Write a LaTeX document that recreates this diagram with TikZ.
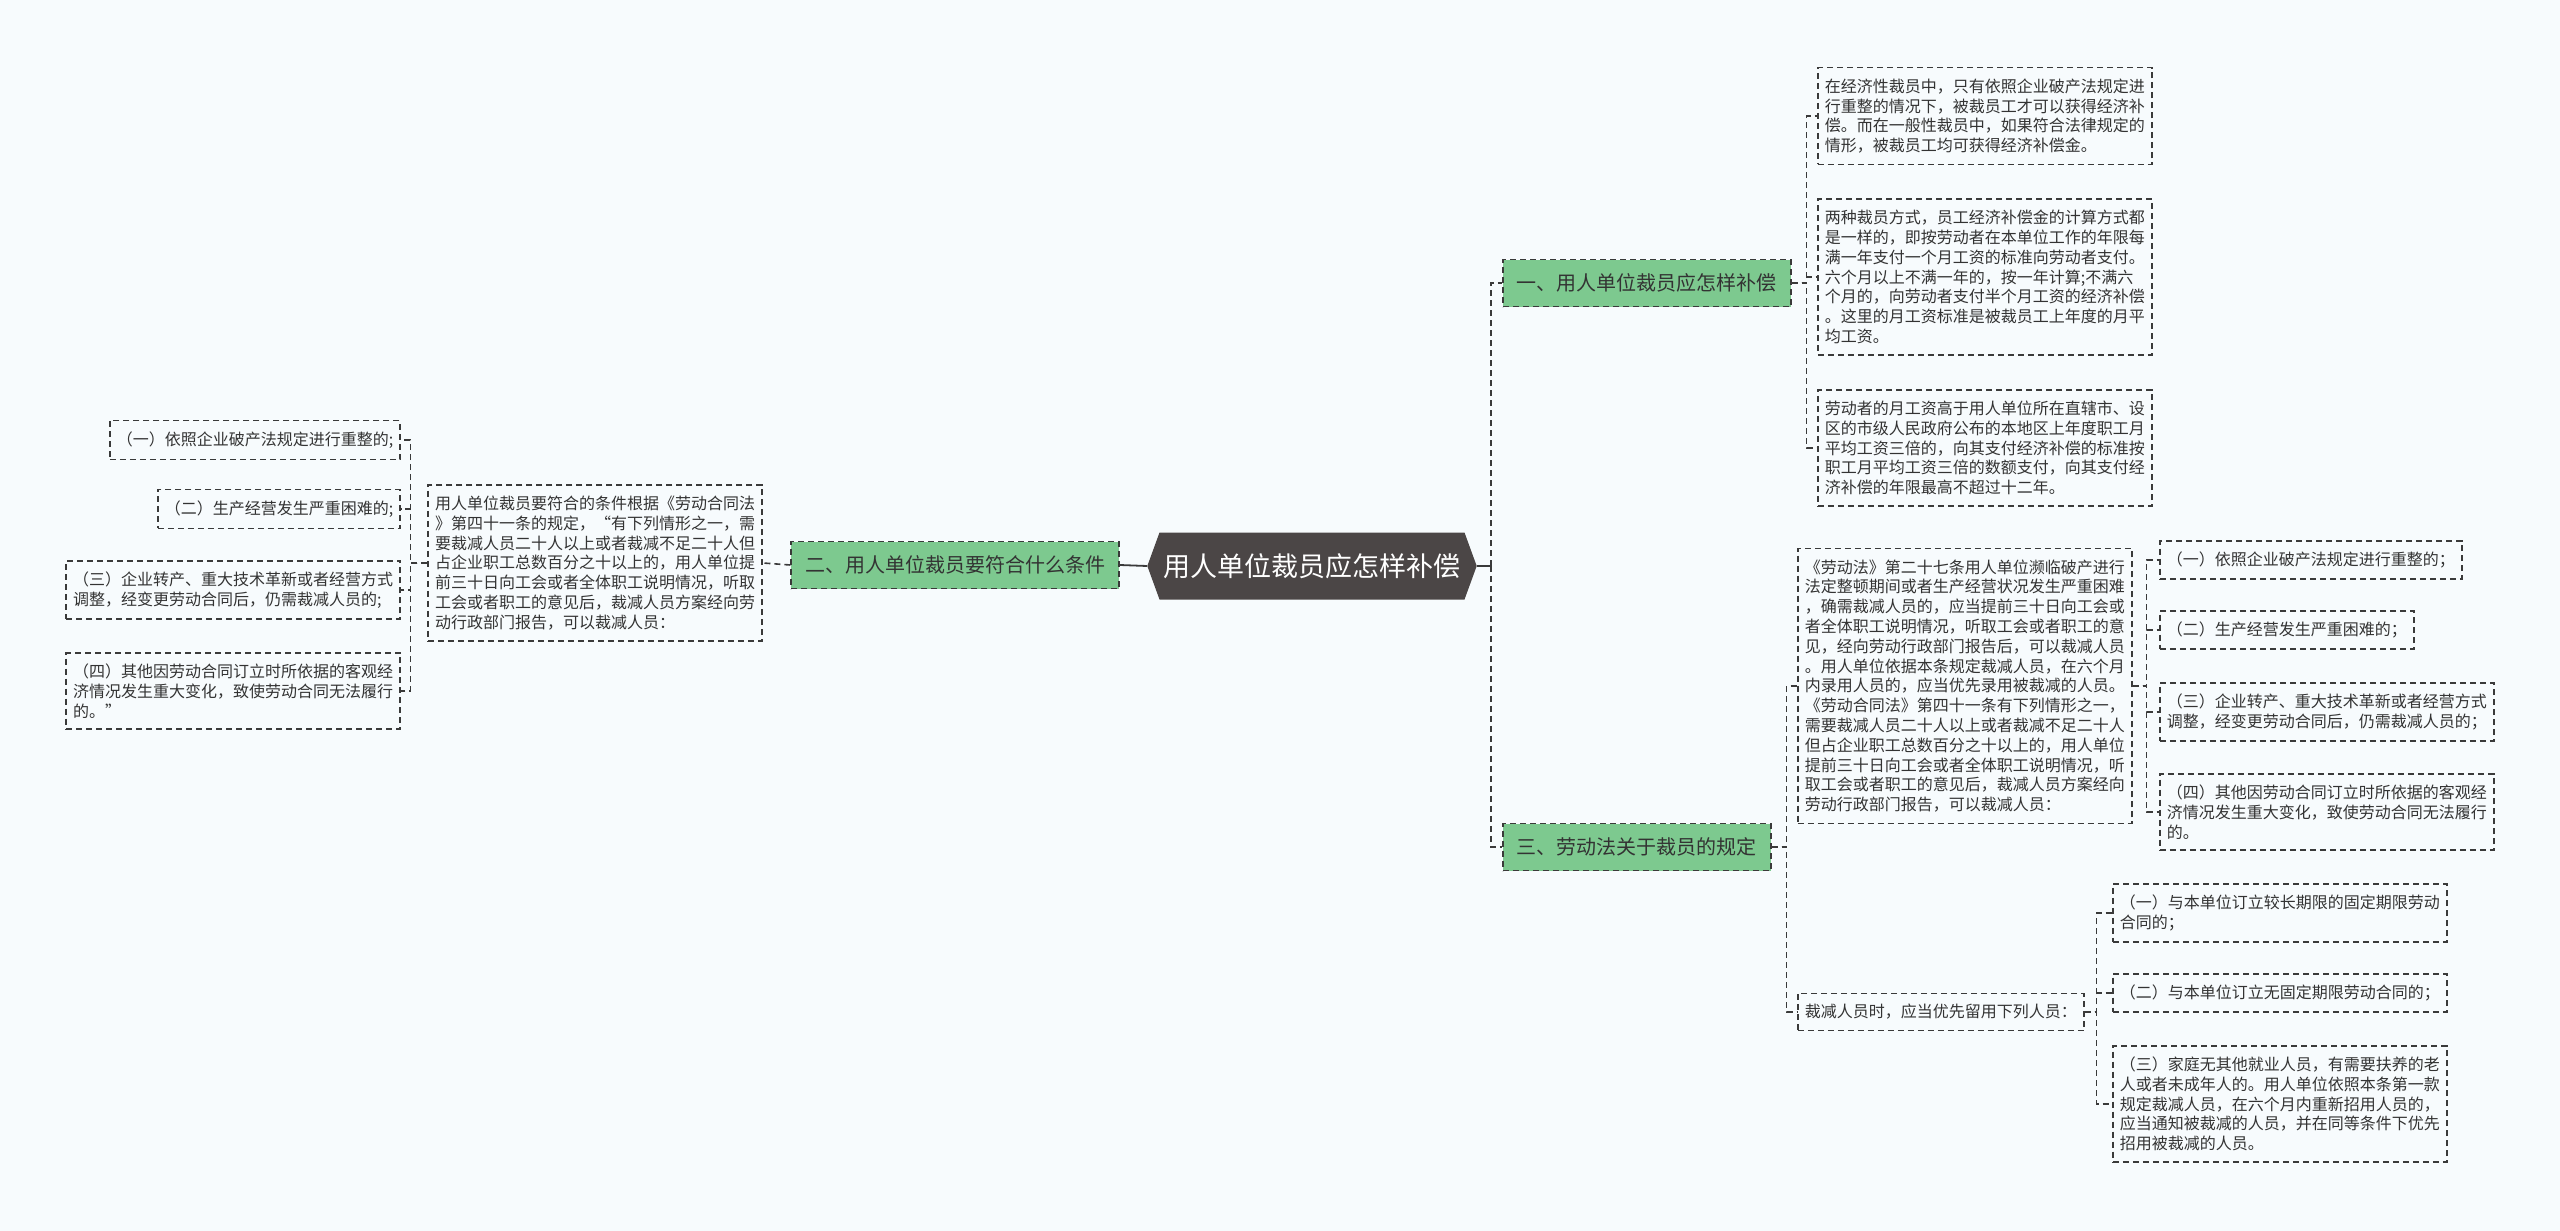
\documentclass[tikz,border=0pt]{standalone}
\usepackage{fontspec}
\setmainfont{Noto Sans CJK SC}
\usetikzlibrary{shapes.symbols}
\definecolor{bgcol}{HTML}{F7FBFD}
\definecolor{rootcol}{HTML}{4B4646}
\definecolor{greencol}{HTML}{7DC98F}
\definecolor{linecol}{HTML}{3A3A3A}
\definecolor{txtcol}{HTML}{333333}

\begin{document}
\begin{tikzpicture}[x=1pt,y=-1pt,
  link/.style={draw=linecol,line width=1.6pt,dash pattern=on 6pt off 4pt},
  leafbox/.style={draw=linecol,line width=1.6pt,dash pattern=on 6pt off 4pt,text=txtcol,
    font=\fontsize{16}{19.8}\selectfont,align=left,inner xsep=7pt,inner ysep=11pt},
  branchbox/.style={draw=linecol,line width=1.6pt,dash pattern=on 6pt off 4pt,fill=greencol,
    text=black!80,font=\fontsize{20}{24}\selectfont,inner xsep=14pt,minimum height=47pt},
  rootbox/.style={signal,signal to=west and east,signal pointer angle=140,fill=rootcol,
    text=white,font=\fontsize{27}{32}\selectfont,minimum width=328pt,minimum height=67pt,inner xsep=4pt}
]
\useasboundingbox[fill=bgcol] (0,0) rectangle (2560,1231);

% centre and branches
\node[rootbox] (root) at (1312,566) {用人单位裁员应怎样补偿};
\node[branchbox, anchor=west] (b1) at (1502,283) {一、用人单位裁员应怎样补偿};
\node[branchbox, anchor=east] (b2) at (1120,565) {二、用人单位裁员要符合什么条件};
\node[branchbox, anchor=west] (b3) at (1502,847) {三、劳动法关于裁员的规定};

% branch one
\node[leafbox, anchor=west, text width=320pt] (a1) at (1817,116) {在经济性裁员中，只有依照企业破产法规定进\\行重整的情况下，被裁员工才可以获得经济补\\偿。而在一般性裁员中，如果符合法律规定的\\情形，被裁员工均可获得经济补偿金。};
\node[leafbox, anchor=west, text width=320pt] (a2) at (1817,277) {两种裁员方式，员工经济补偿金的计算方式都\\是一样的，即按劳动者在本单位工作的年限每\\满一年支付一个月工资的标准向劳动者支付。\\六个月以上不满一年的，按一年计算;不满六\\个月的，向劳动者支付半个月工资的经济补偿\\。这里的月工资标准是被裁员工上年度的月平\\均工资。};
\node[leafbox, anchor=west, text width=320pt] (a3) at (1817,448) {劳动者的月工资高于用人单位所在直辖市、设\\区的市级人民政府公布的本地区上年度职工月\\平均工资三倍的，向其支付经济补偿的标准按\\职工月平均工资三倍的数额支付，向其支付经\\济补偿的年限最高不超过十二年。};

% branch two
\node[leafbox, anchor=east, text width=320pt] (lbig) at (763,563) {用人单位裁员要符合的条件根据《劳动合同法\\》第四十一条的规定，“有下列情形之一，需\\要裁减人员二十人以上或者裁减不足二十人但\\占企业职工总数百分之十以上的，用人单位提\\前三十日向工会或者全体职工说明情况，听取\\工会或者职工的意见后，裁减人员方案经向劳\\动行政部门报告，可以裁减人员：};
\node[leafbox, anchor=east] (l1) at (401,440) {（一）依照企业破产法规定进行重整的;};
\node[leafbox, anchor=east] (l2) at (401,509) {（二）生产经营发生严重困难的;};
\node[leafbox, anchor=east, text width=320pt] (l3) at (401,590) {（三）企业转产、重大技术革新或者经营方式\\调整，经变更劳动合同后，仍需裁减人员的;};
\node[leafbox, anchor=east, text width=320pt] (l4) at (401,691) {（四）其他因劳动合同订立时所依据的客观经\\济情况发生重大变化，致使劳动合同无法履行\\的。”};

% branch three
\node[leafbox, anchor=west, text width=320pt] (rbig) at (1797,686) {《劳动法》第二十七条用人单位濒临破产进行\\法定整顿期间或者生产经营状况发生严重困难\\，确需裁减人员的，应当提前三十日向工会或\\者全体职工说明情况，听取工会或者职工的意\\见，经向劳动行政部门报告后，可以裁减人员\\。用人单位依据本条规定裁减人员，在六个月\\内录用人员的，应当优先录用被裁减的人员。\\《劳动合同法》第四十一条有下列情形之一，\\需要裁减人员二十人以上或者裁减不足二十人\\但占企业职工总数百分之十以上的，用人单位\\提前三十日向工会或者全体职工说明情况，听\\取工会或者职工的意见后，裁减人员方案经向\\劳动行政部门报告，可以裁减人员：};
\node[leafbox, anchor=west] (cut) at (1797,1012) {裁减人员时，应当优先留用下列人员：};
\node[leafbox, anchor=west] (r1) at (2159,560) {（一）依照企业破产法规定进行重整的；};
\node[leafbox, anchor=west] (r2) at (2159,630) {（二）生产经营发生严重困难的；};
\node[leafbox, anchor=west, text width=320pt] (r3) at (2159,712) {（三）企业转产、重大技术革新或者经营方式\\调整，经变更劳动合同后，仍需裁减人员的；};
\node[leafbox, anchor=west, text width=320pt] (r4) at (2159,812) {（四）其他因劳动合同订立时所依据的客观经\\济情况发生重大变化，致使劳动合同无法履行\\的。};
\node[leafbox, anchor=west, text width=320pt] (s1) at (2112,913) {（一）与本单位订立较长期限的固定期限劳动\\合同的；};
\node[leafbox, anchor=west] (s2) at (2112,993) {（二）与本单位订立无固定期限劳动合同的；};
\node[leafbox, anchor=west, text width=320pt] (s3) at (2112,1104) {（三）家庭无其他就业人员，有需要扶养的老\\人或者未成年人的。用人单位依照本条第一款\\规定裁减人员，在六个月内重新招用人员的，\\应当通知被裁减的人员，并在同等条件下优先\\招用被裁减的人员。};

% connectors
\draw[linecol, line width=1.8pt] (root.west) -- (b2.east);
\draw[linecol, line width=1.8pt] (root.east) -- ++(14,0) coordinate (rbus);
\draw[link] (rbus) |- (b1.west);
\draw[link] (rbus) |- (b3.west);
\foreach \c in {a1,a2,a3} \draw[link] (b1.east) -- ++(15,0) |- (\c.west);
\draw[link] (b2.west) -- (lbig.east);
\foreach \c in {l1,l2,l3,l4} \draw[link] (lbig.west) -- ++(-17,0) |- (\c.east);
\foreach \c in {rbig,cut} \draw[link] (b3.east) -- ++(15,0) |- (\c.west);
\foreach \c in {r1,r2,r3,r4} \draw[link] (rbig.east) -- ++(14,0) |- (\c.west);
\foreach \c in {s1,s2,s3} \draw[link] (cut.east) -- ++(12,0) |- (\c.west);
\end{tikzpicture}
\end{document}
